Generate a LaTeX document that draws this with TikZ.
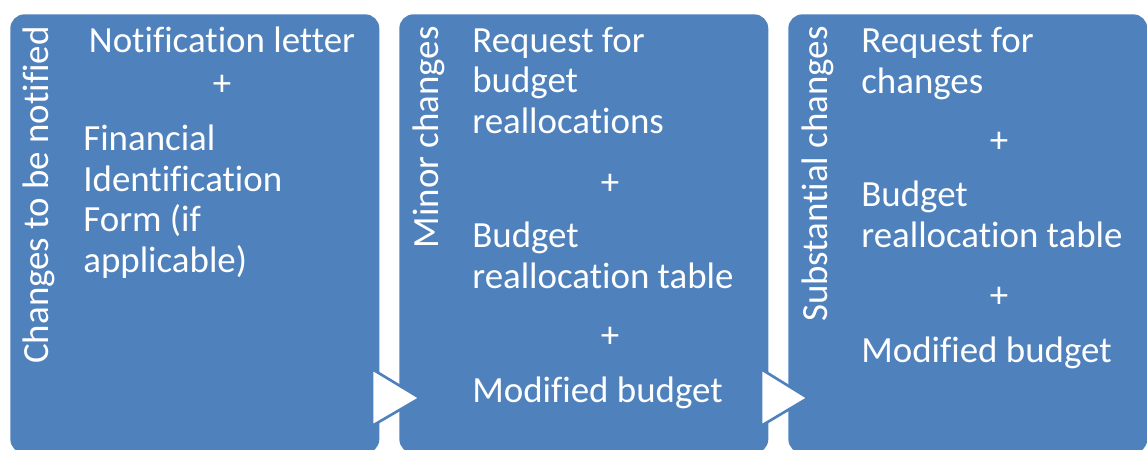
\documentclass[tikz,border=0pt]{standalone}
\usepackage{fontspec}
\setmainfont{Carlito}[Ligatures=NoCommon]
\usepackage{tikz}
\definecolor{stageblue}{HTML}{4F81BD}

\begin{document}
\begin{tikzpicture}[
x=0.02cm, y=-0.02cm,
stage/.style={fill=stageblue, rounded corners=8pt, inner sep=0, anchor=north west,
  minimum width=7.38cm, minimum height=8.78cm},
txt/.style={text=white, font=\fontsize{21}{23}\selectfont, inner sep=0, align=left, anchor=base west},
plus/.style={text=white, font=\fontsize{21}{23}\selectfont, inner sep=0},
side/.style={text=white, font=\fontsize{21}{23}\selectfont, inner sep=0, rotate=90, anchor=base east},
tri/.style={fill=white, draw=stageblue, line width=1.5pt, line join=miter}]
    \useasboundingbox (0,0) rectangle (1147,450);
    \clip (0,0) rectangle (1147,450);

    % Boxes
    \node[stage] (box1) at (10,14) {};
    \node[stage] (box2) at (399,14) {};
    \node[stage, minimum width=7.18cm] (box3) at (788,14) {};

    % Arrows between boxes
    \draw[tri] (372,369) -- (420,398) -- (372,426) -- cycle;
    \draw[tri] (761,369) -- (808,398) -- (761,426) -- cycle;

    % Box 1 (multi-line nodes sit on their last line)
    \node[side] (lab1) at (49,26) {Changes to be notified};
    \node[txt, anchor=base] (note) at (222,52) {Notification letter};
    \node[plus] (p1) at (222,85) {+};
    \node[txt] (fif) at (83,272) {Financial\\Identification\\Form (if\\applicable)};

    % Box 2
    \node[side] (lab2) at (438,26) {Minor changes};
    \node[txt] (req2) at (472,133) {Request for\\budget\\reallocations};
    \node[plus] (p2a) at (610,184) {+};
    \node[txt] (tab2) at (472,288) {Budget\\reallocation table};
    \node[plus] (p2b) at (610,337) {+};
    \node[txt] (mod2) at (472,402) {Modified budget};

    % Box 3
    \node[side] (lab3) at (827,26) {Substantial changes};
    \node[txt] (req3) at (861,93) {Request for\\changes};
    \node[plus] (p3a) at (999,142) {+};
    \node[txt] (tab3) at (861,247) {Budget\\reallocation table};
    \node[plus] (p3b) at (999,297) {+};
    \node[txt] (mod3) at (861,362) {Modified budget};

\end{tikzpicture}
\end{document}
